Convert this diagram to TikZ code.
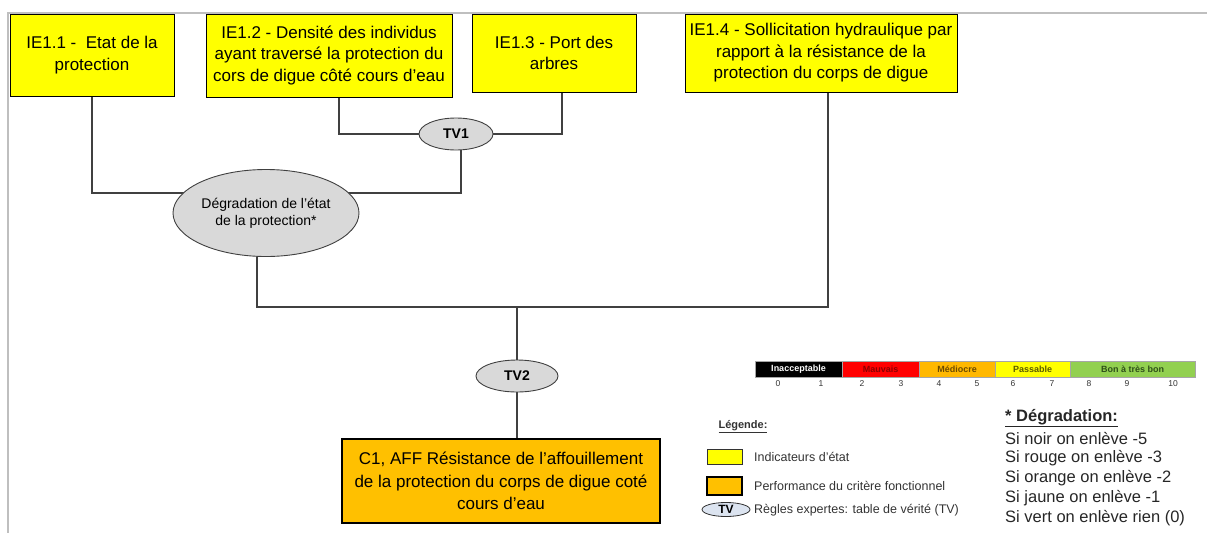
\documentclass[tikz,border=0pt]{standalone}
\usepackage{fontspec}
\setmainfont{Liberation Sans}
\usetikzlibrary{shapes.geometric}
\pgfdeclarelayer{bg}\pgfsetlayers{bg,main}
\definecolor{ieyellow}{HTML}{FFFF00}
\definecolor{perforange}{HTML}{FFC000}
\definecolor{tvgray}{HTML}{D9D9D9}
\definecolor{lineg}{HTML}{404040}
\definecolor{frameg}{HTML}{BFBFBF}
\definecolor{tvblue}{HTML}{DCE4F0}
\definecolor{barred}{HTML}{FF0000}
\definecolor{barorange}{HTML}{FFB800}
\definecolor{baryellow}{HTML}{FFFF00}
\definecolor{bargreen}{HTML}{92D050}
\definecolor{txtred}{HTML}{8B0000}
\definecolor{txtorange}{HTML}{6B4A00}
\definecolor{txtyellow}{HTML}{5A5A00}
\definecolor{txtgreen}{HTML}{2F4F1A}
\begin{document}
\begin{tikzpicture}[x=1pt,y=-1pt,
  iebox/.style={draw=black,line width=0.9pt,fill=ieyellow,align=center,inner sep=0pt,
    font=\fontsize{17}{21.5}\selectfont},
  perfbox/.style={draw=black,line width=2.6pt,fill=perforange,align=center,inner sep=0pt,
    font=\fontsize{17}{22.5}\selectfont},
  tvnode/.style={ellipse,draw=lineg,line width=0.9pt,fill=tvgray,inner sep=0pt,align=center,
    font=\bfseries\fontsize{14}{16}\selectfont},
  conn/.style={draw=lineg,line width=1.1pt},
  barseg/.style={draw=gray!70,line width=0.4pt,inner sep=0pt,minimum height=16pt,
    font=\bfseries\fontsize{9}{10}\selectfont},
  barnum/.style={inner sep=0pt,font=\fontsize{8.5}{9}\selectfont,text=black!80},
  legtext/.style={anchor=west,inner sep=0pt,font=\fontsize{12.5}{14}\selectfont,text=black!80},
  degtext/.style={anchor=west,inner sep=0pt,font=\fontsize{16.5}{19}\selectfont,text=black!85}]
\useasboundingbox (0,0) rectangle (1207,533);

% frame
\begin{pgfonlayer}{bg}
\draw[frameg,line width=1.6pt] (1207,13) -- (8,13) -- (8,533);
\end{pgfonlayer}

% indicator boxes
\node[iebox,minimum width=164pt,minimum height=82pt] (ie11) at (92,55) {IE1.1 -\ \ Etat de la\\protection};
\node[iebox,minimum width=246pt,minimum height=83pt] (ie12) at (329,55.5) {IE1.2 - Densité des individus\\ayant traversé la protection du\\cors de digue côté cours d’eau};
\node[iebox,minimum width=164pt,minimum height=78pt] (ie13) at (554,53) {IE1.3 - Port des\\arbres};
\node[iebox,minimum width=272pt,minimum height=78pt] (ie14) at (821,53) {IE1.4 - Sollicitation hydraulique par\\rapport à la résistance de la\\protection du corps de digue};

% truth tables and aggregation
\node[tvnode,minimum width=74pt,minimum height=32pt] (tv1) at (456,134) {TV1};
\node[tvnode,minimum width=186pt,minimum height=87pt,font=\fontsize{14}{17}\selectfont] (deg) at (266,213) {Dégradation de l’état\\de la protection*};
\node[tvnode,minimum width=82pt,minimum height=32pt] (tv2) at (517,376) {TV2};
\node[perfbox,minimum width=318pt,minimum height=84pt] (c1) at (501,481) {C1, AFF Résistance de l’affouillement\\de la protection du corps de digue coté\\cours d’eau};

\coordinate (j1) at (461,193);
\coordinate (j2) at (517,307);

\begin{pgfonlayer}{bg}
\draw[conn] (ie11.south) |- (j1) -- (j1 |- tv1.center);
\draw[conn] ([xshift=10pt]ie12.south) |- ([xshift=8pt]ie13.south |- tv1.center) -- ([xshift=8pt]ie13.south);
\draw[conn] ([xshift=-9pt]deg.center) |- (j2) -| ([xshift=7pt]ie14.south);
\draw[conn] (j2) -- (j2 |- c1.north);
\end{pgfonlayer}

% colour scale
\node[barseg,fill=black,text=white,minimum width=87pt] (b0) at (798.5,369) {Inacceptable};
\node[barseg,fill=barred,text=txtred,minimum width=77pt] (b1) at (880.5,369) {Mauvais};
\node[barseg,fill=barorange,text=txtorange,minimum width=76pt] (b2) at (957,369) {Médiocre};
\node[barseg,fill=baryellow,text=txtyellow,minimum width=75pt] (b3) at (1032.5,369) {Passable};
\node[barseg,fill=bargreen,text=txtgreen,minimum width=125pt] (b4) at (1132.5,369) {Bon à très bon};
\node[barnum] (n0) at (778,384) {0};
\node[barnum] (n1) at (821,384) {1};
\node[barnum] (n2) at (862,384) {2};
\node[barnum] (n3) at (901,384) {3};
\node[barnum] (n4) at (939,384) {4};
\node[barnum] (n5) at (977,384) {5};
\node[barnum] (n6) at (1013,384) {6};
\node[barnum] (n7) at (1052,384) {7};
\node[barnum] (n8) at (1089,384) {8};
\node[barnum] (n9) at (1127,384) {9};
\node[barnum] (n10) at (1173,384) {10};

% legend
\node[inner sep=0pt,font=\bfseries\fontsize{11}{13}\selectfont,text=black!80] (legt) at (743,427) {\underline{Légende:}};
\node[draw=black!80,line width=0.8pt,fill=ieyellow,minimum width=35pt,minimum height=15pt,inner sep=0pt] (lg1) at (724.5,456.5) {};
\node[legtext] (lt1) at (754,457) {Indicateurs d’état};
\node[draw=black,line width=2pt,fill=perforange,minimum width=35pt,minimum height=18pt,inner sep=0pt] (lg2) at (724.5,486) {};
\node[legtext] (lt2) at (754,486) {Performance du critère fonctionnel};
\node[ellipse,draw=black!80,line width=0.8pt,fill=tvblue,minimum width=48pt,minimum height=14pt,inner sep=0pt,font=\bfseries\fontsize{12}{14}\selectfont] (lg3) at (726,509.5) {TV};
\node[legtext] (lt3) at (754,510) {Règles expertes: table de vérité (TV)};

% degradation list
\node[degtext,font=\bfseries\fontsize{16.5}{19}\selectfont] (dg0) at (1005,418) {\underline{* Dégradation:}};
\node[degtext] (dg1) at (1005,438) {Si noir on enlève -5};
\node[degtext] (dg2) at (1005,458) {Si rouge on enlève -3};
\node[degtext] (dg3) at (1005,478) {Si orange on enlève -2};
\node[degtext] (dg4) at (1005,498) {Si jaune on enlève -1};
\node[degtext] (dg5) at (1005,518) {Si vert on enlève rien (0)};
\end{tikzpicture}
\end{document}
